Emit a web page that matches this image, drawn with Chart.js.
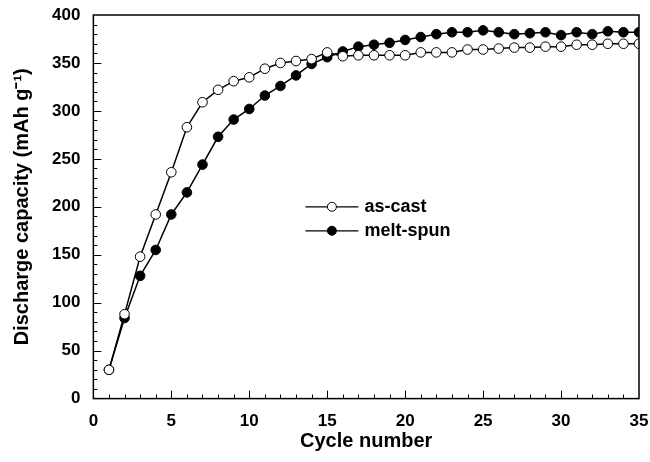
<!DOCTYPE html>
<html>
<head>
<meta charset="utf-8">
<script src="https://cdn.jsdelivr.net/npm/chart.js@4/dist/chart.umd.min.js"></script>
<style>
    html, body { margin: 0; padding: 0; background: #fff; }
    #wrap { width: 650px; height: 462px; }
</style>
</head>
<body>
<div id="wrap"><canvas id="myChart" width="650" height="462"></canvas></div>
<script>
// cycle numbers and the two capacity curves
const cycles = [1, 2, 3, 4, 5, 6, 7, 8, 9, 10, 11, 12, 13, 14, 15, 16, 17, 18,
    19, 20, 21, 22, 23, 24, 25, 26, 27, 28, 29, 30, 31, 32, 33, 34, 35];
const asCast = [30, 88, 148, 192, 236, 283, 309, 322, 331, 335, 344, 350, 352, 354, 361, 357, 358, 358,
    358, 358, 361, 361, 361, 364, 364, 365, 366, 366, 367, 367, 369, 369, 370, 370, 370];
const meltSpun = [30, 84, 128, 155, 192, 215, 244, 273, 291, 302, 316, 326, 337, 349, 356, 362, 367, 369,
    371, 374, 377, 380, 382, 382, 384, 382, 380, 381, 382, 379, 382, 380, 383, 382, 382];
const seriesNames = ["as-cast", "melt-spun"];
const xTicks = [0, 5, 10, 15, 20, 25, 30, 35];
const yTicks = [0, 50, 100, 150, 200, 250, 300, 350, 400];

const FONT = "'Liberation Sans', Arial, Helvetica, sans-serif";

function pts(ys) {
    return cycles.map((c, i) => ({ x: c, y: ys[i] }));
}

// box round the plot and inward ticks, like the original figure
const framePlugin = {
    id: 'frame',
    afterDraw(chart) {
        const { ctx, chartArea: a, scales } = chart;
        const xs = scales.x, ys = scales.y;
        ctx.save();
        ctx.strokeStyle = '#000';
        ctx.lineWidth = 1.5;
        ctx.strokeRect(a.left, a.top, a.right - a.left, a.bottom - a.top);
        ctx.lineWidth = 1;
        ctx.beginPath();
        for (let v = 1; v < 35; v++) {
            let p = Math.round(xs.getPixelForValue(v)) + 0.5;
            let len = v % 5 == 0 ? 8 : 4;
            ctx.moveTo(p, a.bottom);
            ctx.lineTo(p, a.bottom - len);
        }
        for (let v = 10; v < 400; v += 10) {
            let p = Math.round(ys.getPixelForValue(v)) + 0.5;
            let len = v % 50 == 0 ? 8 : 4;
            ctx.moveTo(a.left, p);
            ctx.lineTo(a.left + len, p);
        }
        ctx.stroke();
        ctx.restore();
    }
};

// legend sitting inside the plot
const legendPlugin = {
    id: 'innerLegend',
    afterDraw(chart) {
        const { ctx, scales } = chart;
        const xs = scales.x, ys = scales.y;
        const x0 = xs.getPixelForValue(13.6), x1 = xs.getPixelForValue(17.0);
        const xm = (x0 + x1) / 2;
        const rows = [ys.getPixelForValue(200), ys.getPixelForValue(175)];
        ctx.save();
        chart.data.datasets.forEach((ds, i) => {
            let y = rows[i];
            ctx.strokeStyle = '#000';
            ctx.lineWidth = 1.2;
            ctx.beginPath();
            ctx.moveTo(x0, y);
            ctx.lineTo(x1, y);
            ctx.stroke();
            ctx.beginPath();
            ctx.arc(xm, y, 4.5, 0, Math.PI * 2);
            ctx.fillStyle = ds.pointBackgroundColor;
            ctx.fill();
            ctx.lineWidth = 1;
            ctx.stroke();
            ctx.fillStyle = '#000';
            ctx.font = `bold 18px ${FONT}`;
            ctx.textBaseline = 'middle';
            ctx.textAlign = 'left';
            ctx.fillText(ds.label, x1 + 6, y);
        });
        ctx.restore();
    }
};

function graph() {
    const ctx = document.getElementById('myChart');
    new Chart(ctx, {
        type: 'line',
        data: {
            datasets: [
                {
                    label: seriesNames[0],
                    data: pts(asCast),
                    borderColor: '#000',
                    borderWidth: 1.5,
                    pointBackgroundColor: '#fff',
                    pointBorderColor: '#000',
                    pointBorderWidth: 1,
                    pointRadius: 4.8,
                    tension: 0
                },
                {
                    label: seriesNames[1],
                    data: pts(meltSpun),
                    borderColor: '#000',
                    borderWidth: 1.5,
                    pointBackgroundColor: '#000',
                    pointBorderColor: '#000',
                    pointBorderWidth: 1,
                    pointRadius: 4.8,
                    tension: 0
                }
            ]
        },
        options: {
            responsive: false,
            animation: { duration: 0 },
            layout: { padding: { left: 10, right: 0, top: 0, bottom: 9 } },
            plugins: {
                legend: { display: false },
                tooltip: { enabled: false }
            },
            scales: {
                x: {
                    type: 'linear',
                    min: 0,
                    max: 35,
                    afterBuildTicks: (s) => { s.ticks = xTicks.map(v => ({ value: v })); },
                    afterFit: (s) => { s.paddingRight = 11; s.paddingLeft = 0; },
                    grid: { display: false, drawTicks: false },
                    border: { display: false },
                    ticks: {
                        color: '#000',
                        padding: 13,
                        maxRotation: 0,
                        font: { family: FONT, size: 17, weight: 'bold' }
                    },
                    title: {
                        display: true,
                        text: 'Cycle number',
                        color: '#000',
                        padding: { top: -16, bottom: 0 },
                        font: { family: FONT, size: 20, weight: 'bold' }
                    }
                },
                y: {
                    type: 'linear',
                    min: 0,
                    max: 400,
                    afterBuildTicks: (s) => { s.ticks = yTicks.map(v => ({ value: v })); },
                    afterFit: (s) => { s.paddingTop = 15; s.paddingBottom = 0; },
                    grid: { display: false, drawTicks: false },
                    border: { display: false },
                    ticks: {
                        color: '#000',
                        padding: 13,
                        font: { family: FONT, size: 17, weight: 'bold' }
                    },
                    title: {
                        display: true,
                        text: 'Discharge capacity (mAh g\u207B\u00B9)',
                        color: '#000',
                        padding: { top: 0, bottom: 5 },
                        font: { family: FONT, size: 20, weight: 'bold' }
                    }
                }
            }
        },
        plugins: [framePlugin, legendPlugin]
    });
}

graph();
</script>
</body>
</html>
